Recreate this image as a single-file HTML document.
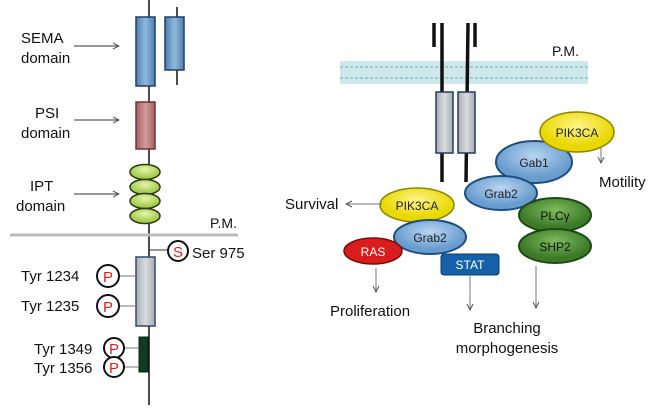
<!DOCTYPE html>
<html><head><meta charset="utf-8"><style>
html,body{margin:0;padding:0;background:#fff}
svg text{font-family:"Liberation Sans",sans-serif}
</style></head><body>
<svg width="672" height="410" viewBox="0 0 672 410" xmlns="http://www.w3.org/2000/svg">
<defs>
<linearGradient id="blue" x1="0" x2="1"><stop offset="0" stop-color="#4f7fae"/><stop offset="0.5" stop-color="#8fb8dd"/><stop offset="1" stop-color="#4f7fae"/></linearGradient>
<linearGradient id="pink" x1="0" x2="1"><stop offset="0" stop-color="#a85f62"/><stop offset="0.5" stop-color="#d49a9c"/><stop offset="1" stop-color="#a85f62"/></linearGradient>
<linearGradient id="grey" x1="0" x2="1"><stop offset="0" stop-color="#a8adb3"/><stop offset="0.5" stop-color="#d8dbdf"/><stop offset="1" stop-color="#a8adb3"/></linearGradient>
<radialGradient id="lb" cx="0.5" cy="0.35"><stop offset="0" stop-color="#b8d5f0"/><stop offset="1" stop-color="#6a9dcf"/></radialGradient>
<radialGradient id="yl" cx="0.5" cy="0.35"><stop offset="0" stop-color="#fff58a"/><stop offset="1" stop-color="#e8d800"/></radialGradient>
<radialGradient id="gr" cx="0.5" cy="0.35"><stop offset="0" stop-color="#7dbb5a"/><stop offset="1" stop-color="#3c7a2a"/></radialGradient>
<radialGradient id="lg" cx="0.5" cy="0.35"><stop offset="0" stop-color="#e6f5a8"/><stop offset="1" stop-color="#a6cc50"/></radialGradient>
<marker id="ah" markerWidth="8" markerHeight="8" refX="7" refY="4" orient="auto"><path d="M1,1 L7,4 L1,7" fill="none" stroke="#555" stroke-width="1"/></marker>
</defs>

<!-- LEFT PANEL -->
<g>
<line x1="149" y1="0" x2="149" y2="405" stroke="#111" stroke-width="1.5"/>
<line x1="177" y1="7" x2="177" y2="85" stroke="#111" stroke-width="1.5"/>
<rect x="136" y="17" width="19" height="69" fill="url(#blue)" stroke="#1f3f63" stroke-width="1.5"/>
<rect x="165" y="17" width="19" height="53" fill="url(#blue)" stroke="#1f3f63" stroke-width="1.5"/>
<rect x="136" y="102" width="19" height="47" fill="url(#pink)" stroke="#6b3538" stroke-width="1.5"/>
<g fill="url(#lg)" stroke="#2b3a10" stroke-width="1.5">
<ellipse cx="145" cy="172" rx="15" ry="7.5"/><ellipse cx="145" cy="187" rx="15" ry="7.5"/><ellipse cx="145" cy="201" rx="15" ry="7.5"/><ellipse cx="145" cy="216" rx="15" ry="7.5"/>
</g>
<g font-size="15" fill="#111">
<text x="21" y="43">SEMA</text><text x="21" y="63">domain</text>
<text x="35" y="118">PSI</text><text x="21" y="138">domain</text>
<text x="30" y="191">IPT</text><text x="16" y="211">domain</text>
</g>
<g stroke="#333" stroke-width="1" marker-end="url(#ah)">
<line x1="74" y1="46" x2="119" y2="46"/><line x1="74" y1="120" x2="119" y2="120"/><line x1="74" y1="194" x2="119" y2="194"/>
</g>
<line x1="10" y1="235" x2="238" y2="235" stroke="#bbb" stroke-width="3"/>
<text x="210" y="228" font-size="14" fill="#111">P.M.</text>
<line x1="149" y1="250" x2="168" y2="250" stroke="#333"/>
<circle cx="178" cy="251" r="10" fill="#fff" stroke="#111" stroke-width="2"/>
<text x="178" y="257" font-size="15" fill="#e02020" text-anchor="middle">S</text>
<text x="192" y="258" font-size="15" fill="#111">Ser 975</text>
<rect x="136" y="257" width="19" height="69" fill="url(#grey)" stroke="#2d4a6a" stroke-width="1.5"/>
<rect x="139" y="337" width="9" height="35" fill="#133a22" stroke="#0a2012"/>
<g stroke="#777"><line x1="119" y1="276" x2="136" y2="276"/><line x1="119" y1="306" x2="136" y2="306"/><line x1="124" y1="348" x2="139" y2="348"/><line x1="124" y1="367" x2="139" y2="367"/></g>
<g fill="#fff" stroke="#111" stroke-width="2">
<circle cx="108" cy="276" r="11"/>
<circle cx="108" cy="306" r="11"/>
<circle cx="114" cy="348" r="10"/>
<circle cx="114" cy="367" r="10"/>
</g>
<g font-size="15" fill="#e02020" text-anchor="middle">
<text x="108" y="282">P</text><text x="108" y="312">P</text><text x="114" y="354">P</text><text x="114" y="373">P</text>
</g>
<g font-size="15" fill="#111">
<text x="21" y="281">Tyr 1234</text><text x="21" y="311">Tyr 1235</text>
<text x="34" y="354">Tyr 1349</text><text x="34" y="373">Tyr 1356</text>
</g>
</g>

<!-- RIGHT PANEL -->
<g>
<rect x="340" y="61" width="248" height="23" fill="#cfe8ec"/>
<line x1="340" y1="67" x2="588" y2="67" stroke="#9cc9d2" stroke-width="2" stroke-dasharray="3,2"/>
<line x1="340" y1="78" x2="588" y2="78" stroke="#9cc9d2" stroke-width="2" stroke-dasharray="3,2"/>
<text x="552" y="56" font-size="14" fill="#111">P.M.</text>
<g stroke="#111" stroke-width="3.5">
<line x1="442" y1="23" x2="442" y2="182"/><line x1="468" y1="23" x2="466" y2="182"/>
<line x1="434" y1="23" x2="434" y2="47"/><line x1="475" y1="23" x2="475" y2="47"/>
</g>
<rect x="436" y="92" width="17" height="61" fill="url(#grey)" stroke="#1f3f63" stroke-width="1.5"/>
<rect x="458" y="92" width="17" height="61" fill="url(#grey)" stroke="#1f3f63" stroke-width="1.5"/>

<ellipse cx="534" cy="162" rx="38" ry="21" fill="url(#lb)" stroke="#1c4f80" stroke-width="2"/>
<text x="534" y="167" font-size="12" text-anchor="middle" fill="#222">Gab1</text>
<ellipse cx="577" cy="132" rx="37" ry="20" fill="url(#yl)" stroke="#8a8400" stroke-width="1.5"/>
<text x="577" y="137" font-size="12" text-anchor="middle" fill="#222">PIK3CA</text>
<ellipse cx="501" cy="193" rx="36" ry="17" fill="url(#lb)" stroke="#1c4f80" stroke-width="2"/>
<text x="501" y="198" font-size="12" text-anchor="middle" fill="#222">Grab2</text>
<ellipse cx="555" cy="215" rx="36" ry="17" fill="url(#gr)" stroke="#1d4a14" stroke-width="2"/>
<text x="555" y="220" font-size="12" text-anchor="middle" fill="#111">PLCγ</text>
<ellipse cx="555" cy="246" rx="36" ry="17" fill="url(#gr)" stroke="#1d4a14" stroke-width="2"/>
<text x="555" y="251" font-size="12" text-anchor="middle" fill="#111">SHP2</text>
<ellipse cx="417" cy="205" rx="37" ry="17" fill="url(#yl)" stroke="#8a8400" stroke-width="1.5"/>
<text x="417" y="210" font-size="12" text-anchor="middle" fill="#222">PIK3CA</text>
<ellipse cx="430" cy="237" rx="36" ry="17" fill="url(#lb)" stroke="#1c4f80" stroke-width="2"/>
<text x="430" y="242" font-size="12" text-anchor="middle" fill="#222">Grab2</text>
<ellipse cx="373" cy="251" rx="29" ry="13" fill="#d91c1c" stroke="#7a0a0a" stroke-width="1.5"/>
<text x="373" y="256" font-size="12" text-anchor="middle" fill="#fff">RAS</text>
<rect x="441" y="254" width="58" height="21" rx="3" fill="#1560a8" stroke="#0b3b6b"/>
<text x="470" y="269" font-size="12" text-anchor="middle" fill="#fff">STAT</text>

<g stroke="#777" stroke-width="1" marker-end="url(#ah)">
<line x1="601" y1="147" x2="601" y2="163"/>
<line x1="382" y1="204" x2="346" y2="204"/>
<line x1="376" y1="268" x2="376" y2="292"/>
<line x1="470" y1="276" x2="470" y2="310"/>
<line x1="536" y1="266" x2="536" y2="308"/>
</g>
<g font-size="15" fill="#111">
<text x="599" y="187">Motility</text>
<text x="285" y="209">Survival</text>
<text x="330" y="316">Proliferation</text>
<text x="507" y="333" text-anchor="middle">Branching</text>
<text x="507" y="353" text-anchor="middle">morphogenesis</text>
</g>
</g>
</svg>
</body></html>
